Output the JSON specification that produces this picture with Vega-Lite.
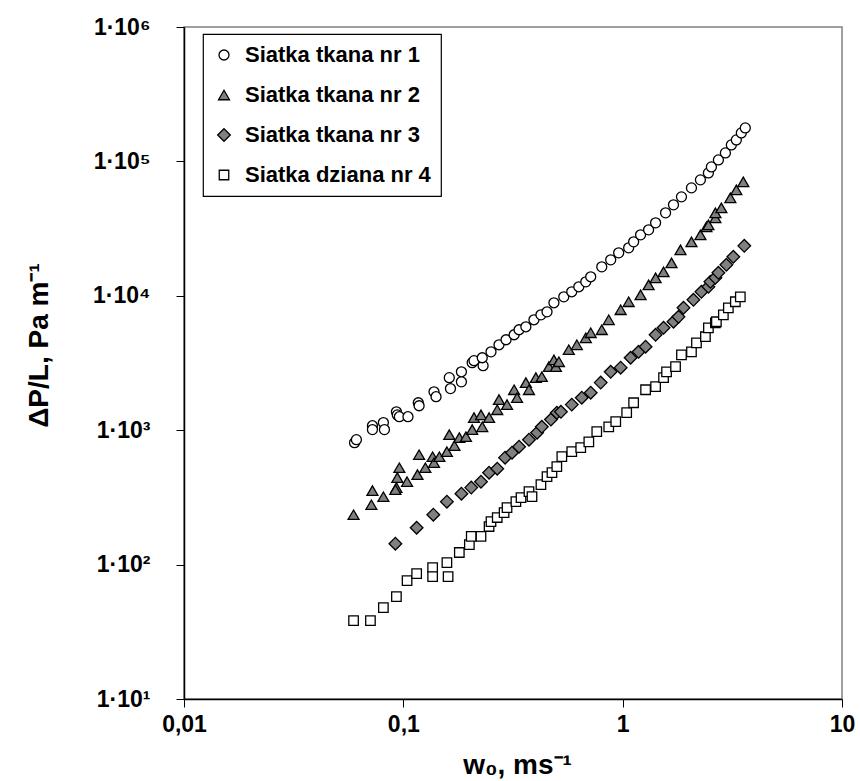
{
  "$schema": "https://vega.github.io/schema/vega-lite/v6.json",
  "width": 658,
  "height": 672,
  "autosize": {"type": "none"},
  "padding": {"left": 184, "top": 27, "right": 18, "bottom": 82},
  "background": "white",
  "config": {
    "font": "Liberation Sans",
    "view": {"stroke": "#808080", "strokeWidth": 1.5},
    "legend": {
      "orient": "none", "legendX": 19, "legendY": 7,
      "strokeColor": "black", "strokeWidth": 1.2, "fillColor": "white",
      "padding": 10, "rowPadding": 18, "labelLimit": 500,
      "labelFont": "Liberation Sans", "labelFontWeight": "bold", "labelFontSize": 22, "labelColor": "black",
      "labelOffset": 10, "symbolStrokeWidth": 1.3
    }
  },
  "data": {
    "values": [
      {"s": "Siatka tkana nr 1", "x": 0.0599, "y": 807},
      {"s": "Siatka tkana nr 1", "x": 0.0611, "y": 850},
      {"s": "Siatka tkana nr 1", "x": 0.0723, "y": 1080},
      {"s": "Siatka tkana nr 1", "x": 0.0723, "y": 1010},
      {"s": "Siatka tkana nr 1", "x": 0.0811, "y": 1140},
      {"s": "Siatka tkana nr 1", "x": 0.082, "y": 1010},
      {"s": "Siatka tkana nr 1", "x": 0.093, "y": 1370},
      {"s": "Siatka tkana nr 1", "x": 0.0939, "y": 1300},
      {"s": "Siatka tkana nr 1", "x": 0.0959, "y": 1260},
      {"s": "Siatka tkana nr 1", "x": 0.105, "y": 1260},
      {"s": "Siatka tkana nr 1", "x": 0.117, "y": 1600},
      {"s": "Siatka tkana nr 1", "x": 0.118, "y": 1520},
      {"s": "Siatka tkana nr 1", "x": 0.138, "y": 1930},
      {"s": "Siatka tkana nr 1", "x": 0.141, "y": 1775},
      {"s": "Siatka tkana nr 1", "x": 0.162, "y": 2460},
      {"s": "Siatka tkana nr 1", "x": 0.164, "y": 2040},
      {"s": "Siatka tkana nr 1", "x": 0.184, "y": 2720},
      {"s": "Siatka tkana nr 1", "x": 0.184, "y": 2290},
      {"s": "Siatka tkana nr 1", "x": 0.206, "y": 3180},
      {"s": "Siatka tkana nr 1", "x": 0.21, "y": 3290},
      {"s": "Siatka tkana nr 1", "x": 0.231, "y": 3020},
      {"s": "Siatka tkana nr 1", "x": 0.229, "y": 3460},
      {"s": "Siatka tkana nr 1", "x": 0.251, "y": 3830},
      {"s": "Siatka tkana nr 1", "x": 0.273, "y": 4320},
      {"s": "Siatka tkana nr 1", "x": 0.294, "y": 4710},
      {"s": "Siatka tkana nr 1", "x": 0.32, "y": 5130},
      {"s": "Siatka tkana nr 1", "x": 0.337, "y": 5590},
      {"s": "Siatka tkana nr 1", "x": 0.362, "y": 5880},
      {"s": "Siatka tkana nr 1", "x": 0.394, "y": 6630},
      {"s": "Siatka tkana nr 1", "x": 0.424, "y": 7220},
      {"s": "Siatka tkana nr 1", "x": 0.452, "y": 7600},
      {"s": "Siatka tkana nr 1", "x": 0.486, "y": 8870},
      {"s": "Siatka tkana nr 1", "x": 0.539, "y": 9830},
      {"s": "Siatka tkana nr 1", "x": 0.586, "y": 10710},
      {"s": "Siatka tkana nr 1", "x": 0.631, "y": 11670},
      {"s": "Siatka tkana nr 1", "x": 0.679, "y": 12710},
      {"s": "Siatka tkana nr 1", "x": 0.715, "y": 13850},
      {"s": "Siatka tkana nr 1", "x": 0.803, "y": 16430},
      {"s": "Siatka tkana nr 1", "x": 0.882, "y": 18520},
      {"s": "Siatka tkana nr 1", "x": 0.959, "y": 20880},
      {"s": "Siatka tkana nr 1", "x": 1.065, "y": 22750},
      {"s": "Siatka tkana nr 1", "x": 1.122, "y": 25200},
      {"s": "Siatka tkana nr 1", "x": 1.207, "y": 28410},
      {"s": "Siatka tkana nr 1", "x": 1.313, "y": 30950},
      {"s": "Siatka tkana nr 1", "x": 1.413, "y": 34900},
      {"s": "Siatka tkana nr 1", "x": 1.569, "y": 41410},
      {"s": "Siatka tkana nr 1", "x": 1.705, "y": 47490},
      {"s": "Siatka tkana nr 1", "x": 1.854, "y": 54460},
      {"s": "Siatka tkana nr 1", "x": 2.059, "y": 63530},
      {"s": "Siatka tkana nr 1", "x": 2.262, "y": 72870},
      {"s": "Siatka tkana nr 1", "x": 2.46, "y": 82120},
      {"s": "Siatka tkana nr 1", "x": 2.538, "y": 91000},
      {"s": "Siatka tkana nr 1", "x": 2.732, "y": 102600},
      {"s": "Siatka tkana nr 1", "x": 2.94, "y": 115700},
      {"s": "Siatka tkana nr 1", "x": 3.13, "y": 132700},
      {"s": "Siatka tkana nr 1", "x": 3.298, "y": 144500},
      {"s": "Siatka tkana nr 1", "x": 3.475, "y": 162900},
      {"s": "Siatka tkana nr 1", "x": 3.623, "y": 177500},

      {"s": "Siatka tkana nr 2", "x": 0.0593, "y": 235},
      {"s": "Siatka tkana nr 2", "x": 0.0723, "y": 355},
      {"s": "Siatka tkana nr 2", "x": 0.0715, "y": 279},
      {"s": "Siatka tkana nr 2", "x": 0.0811, "y": 320},
      {"s": "Siatka tkana nr 2", "x": 0.093, "y": 374},
      {"s": "Siatka tkana nr 2", "x": 0.0939, "y": 444},
      {"s": "Siatka tkana nr 2", "x": 0.0959, "y": 526},
      {"s": "Siatka tkana nr 2", "x": 0.092, "y": 361},
      {"s": "Siatka tkana nr 2", "x": 0.104, "y": 414},
      {"s": "Siatka tkana nr 2", "x": 0.116, "y": 467},
      {"s": "Siatka tkana nr 2", "x": 0.118, "y": 657},
      {"s": "Siatka tkana nr 2", "x": 0.126, "y": 526},
      {"s": "Siatka tkana nr 2", "x": 0.136, "y": 635},
      {"s": "Siatka tkana nr 2", "x": 0.138, "y": 573},
      {"s": "Siatka tkana nr 2", "x": 0.146, "y": 635},
      {"s": "Siatka tkana nr 2", "x": 0.162, "y": 926},
      {"s": "Siatka tkana nr 2", "x": 0.158, "y": 692},
      {"s": "Siatka tkana nr 2", "x": 0.171, "y": 767},
      {"s": "Siatka tkana nr 2", "x": 0.18, "y": 880},
      {"s": "Siatka tkana nr 2", "x": 0.193, "y": 895},
      {"s": "Siatka tkana nr 2", "x": 0.206, "y": 1010},
      {"s": "Siatka tkana nr 2", "x": 0.21, "y": 1240},
      {"s": "Siatka tkana nr 2", "x": 0.226, "y": 1300},
      {"s": "Siatka tkana nr 2", "x": 0.229, "y": 1060},
      {"s": "Siatka tkana nr 2", "x": 0.246, "y": 1240},
      {"s": "Siatka tkana nr 2", "x": 0.268, "y": 1420},
      {"s": "Siatka tkana nr 2", "x": 0.273, "y": 1690},
      {"s": "Siatka tkana nr 2", "x": 0.297, "y": 1550},
      {"s": "Siatka tkana nr 2", "x": 0.32, "y": 2000},
      {"s": "Siatka tkana nr 2", "x": 0.33, "y": 1745},
      {"s": "Siatka tkana nr 2", "x": 0.362, "y": 2260},
      {"s": "Siatka tkana nr 2", "x": 0.374, "y": 2000},
      {"s": "Siatka tkana nr 2", "x": 0.402, "y": 2460},
      {"s": "Siatka tkana nr 2", "x": 0.428, "y": 2500},
      {"s": "Siatka tkana nr 2", "x": 0.461, "y": 2970},
      {"s": "Siatka tkana nr 2", "x": 0.486, "y": 3340},
      {"s": "Siatka tkana nr 2", "x": 0.496, "y": 2970},
      {"s": "Siatka tkana nr 2", "x": 0.512, "y": 3230},
      {"s": "Siatka tkana nr 2", "x": 0.568, "y": 3970},
      {"s": "Siatka tkana nr 2", "x": 0.618, "y": 4320},
      {"s": "Siatka tkana nr 2", "x": 0.679, "y": 4870},
      {"s": "Siatka tkana nr 2", "x": 0.715, "y": 5310},
      {"s": "Siatka tkana nr 2", "x": 0.803, "y": 5590},
      {"s": "Siatka tkana nr 2", "x": 0.864, "y": 6630},
      {"s": "Siatka tkana nr 2", "x": 0.979, "y": 7870},
      {"s": "Siatka tkana nr 2", "x": 1.065, "y": 9030},
      {"s": "Siatka tkana nr 2", "x": 1.207, "y": 10170},
      {"s": "Siatka tkana nr 2", "x": 1.313, "y": 12070},
      {"s": "Siatka tkana nr 2", "x": 1.413, "y": 13610},
      {"s": "Siatka tkana nr 2", "x": 1.536, "y": 15080},
      {"s": "Siatka tkana nr 2", "x": 1.67, "y": 17590},
      {"s": "Siatka tkana nr 2", "x": 1.835, "y": 21980},
      {"s": "Siatka tkana nr 2", "x": 2.059, "y": 25200},
      {"s": "Siatka tkana nr 2", "x": 2.262, "y": 28410},
      {"s": "Siatka tkana nr 2", "x": 2.409, "y": 32580},
      {"s": "Siatka tkana nr 2", "x": 2.46, "y": 33720},
      {"s": "Siatka tkana nr 2", "x": 2.647, "y": 38010},
      {"s": "Siatka tkana nr 2", "x": 2.647, "y": 41410},
      {"s": "Siatka tkana nr 2", "x": 2.818, "y": 45110},
      {"s": "Siatka tkana nr 2", "x": 3.097, "y": 53530},
      {"s": "Siatka tkana nr 2", "x": 3.298, "y": 61390},
      {"s": "Siatka tkana nr 2", "x": 3.548, "y": 70410},

      {"s": "Siatka tkana nr 3", "x": 0.092, "y": 143},
      {"s": "Siatka tkana nr 3", "x": 0.115, "y": 188},
      {"s": "Siatka tkana nr 3", "x": 0.137, "y": 235},
      {"s": "Siatka tkana nr 3", "x": 0.158, "y": 294},
      {"s": "Siatka tkana nr 3", "x": 0.184, "y": 337},
      {"s": "Siatka tkana nr 3", "x": 0.204, "y": 374},
      {"s": "Siatka tkana nr 3", "x": 0.226, "y": 414},
      {"s": "Siatka tkana nr 3", "x": 0.246, "y": 483},
      {"s": "Siatka tkana nr 3", "x": 0.268, "y": 517},
      {"s": "Siatka tkana nr 3", "x": 0.291, "y": 625},
      {"s": "Siatka tkana nr 3", "x": 0.313, "y": 680},
      {"s": "Siatka tkana nr 3", "x": 0.337, "y": 754},
      {"s": "Siatka tkana nr 3", "x": 0.374, "y": 850},
      {"s": "Siatka tkana nr 3", "x": 0.407, "y": 958},
      {"s": "Siatka tkana nr 3", "x": 0.428, "y": 1060},
      {"s": "Siatka tkana nr 3", "x": 0.471, "y": 1200},
      {"s": "Siatka tkana nr 3", "x": 0.501, "y": 1350},
      {"s": "Siatka tkana nr 3", "x": 0.523, "y": 1370},
      {"s": "Siatka tkana nr 3", "x": 0.586, "y": 1550},
      {"s": "Siatka tkana nr 3", "x": 0.651, "y": 1745},
      {"s": "Siatka tkana nr 3", "x": 0.715, "y": 1900},
      {"s": "Siatka tkana nr 3", "x": 0.794, "y": 2260},
      {"s": "Siatka tkana nr 3", "x": 0.882, "y": 2720},
      {"s": "Siatka tkana nr 3", "x": 0.979, "y": 2920},
      {"s": "Siatka tkana nr 3", "x": 1.087, "y": 3460},
      {"s": "Siatka tkana nr 3", "x": 1.182, "y": 3830},
      {"s": "Siatka tkana nr 3", "x": 1.272, "y": 4180},
      {"s": "Siatka tkana nr 3", "x": 1.413, "y": 5130},
      {"s": "Siatka tkana nr 3", "x": 1.536, "y": 5780},
      {"s": "Siatka tkana nr 3", "x": 1.705, "y": 6410},
      {"s": "Siatka tkana nr 3", "x": 1.797, "y": 6980},
      {"s": "Siatka tkana nr 3", "x": 1.894, "y": 8140},
      {"s": "Siatka tkana nr 3", "x": 2.102, "y": 9340},
      {"s": "Siatka tkana nr 3", "x": 2.286, "y": 10710},
      {"s": "Siatka tkana nr 3", "x": 2.46, "y": 11670},
      {"s": "Siatka tkana nr 3", "x": 2.512, "y": 12710},
      {"s": "Siatka tkana nr 3", "x": 2.647, "y": 13610},
      {"s": "Siatka tkana nr 3", "x": 2.732, "y": 14830},
      {"s": "Siatka tkana nr 3", "x": 2.971, "y": 17000},
      {"s": "Siatka tkana nr 3", "x": 3.196, "y": 19500},
      {"s": "Siatka tkana nr 3", "x": 3.585, "y": 23530},

      {"s": "Siatka dziana nr 4", "x": 0.0593, "y": 38.3},
      {"s": "Siatka dziana nr 4", "x": 0.0708, "y": 38.3},
      {"s": "Siatka dziana nr 4", "x": 0.0811, "y": 47.9},
      {"s": "Siatka dziana nr 4", "x": 0.093, "y": 57.8},
      {"s": "Siatka dziana nr 4", "x": 0.104, "y": 76},
      {"s": "Siatka dziana nr 4", "x": 0.115, "y": 85.7},
      {"s": "Siatka dziana nr 4", "x": 0.136, "y": 95},
      {"s": "Siatka dziana nr 4", "x": 0.136, "y": 81.4},
      {"s": "Siatka dziana nr 4", "x": 0.158, "y": 103.5},
      {"s": "Siatka dziana nr 4", "x": 0.16, "y": 81.4},
      {"s": "Siatka dziana nr 4", "x": 0.18, "y": 123},
      {"s": "Siatka dziana nr 4", "x": 0.2, "y": 141},
      {"s": "Siatka dziana nr 4", "x": 0.204, "y": 162},
      {"s": "Siatka dziana nr 4", "x": 0.226, "y": 162},
      {"s": "Siatka dziana nr 4", "x": 0.246, "y": 192},
      {"s": "Siatka dziana nr 4", "x": 0.251, "y": 209},
      {"s": "Siatka dziana nr 4", "x": 0.268, "y": 224},
      {"s": "Siatka dziana nr 4", "x": 0.288, "y": 244},
      {"s": "Siatka dziana nr 4", "x": 0.297, "y": 265},
      {"s": "Siatka dziana nr 4", "x": 0.326, "y": 294},
      {"s": "Siatka dziana nr 4", "x": 0.344, "y": 315},
      {"s": "Siatka dziana nr 4", "x": 0.374, "y": 349},
      {"s": "Siatka dziana nr 4", "x": 0.386, "y": 320},
      {"s": "Siatka dziana nr 4", "x": 0.424, "y": 393},
      {"s": "Siatka dziana nr 4", "x": 0.452, "y": 451},
      {"s": "Siatka dziana nr 4", "x": 0.476, "y": 483},
      {"s": "Siatka dziana nr 4", "x": 0.501, "y": 535},
      {"s": "Siatka dziana nr 4", "x": 0.528, "y": 635},
      {"s": "Siatka dziana nr 4", "x": 0.586, "y": 692},
      {"s": "Siatka dziana nr 4", "x": 0.644, "y": 741},
      {"s": "Siatka dziana nr 4", "x": 0.701, "y": 820},
      {"s": "Siatka dziana nr 4", "x": 0.762, "y": 975},
      {"s": "Siatka dziana nr 4", "x": 0.864, "y": 1060},
      {"s": "Siatka dziana nr 4", "x": 0.93, "y": 1160},
      {"s": "Siatka dziana nr 4", "x": 1.043, "y": 1350},
      {"s": "Siatka dziana nr 4", "x": 1.122, "y": 1600},
      {"s": "Siatka dziana nr 4", "x": 1.272, "y": 2000},
      {"s": "Siatka dziana nr 4", "x": 1.413, "y": 2110},
      {"s": "Siatka dziana nr 4", "x": 1.536, "y": 2460},
      {"s": "Siatka dziana nr 4", "x": 1.585, "y": 2720},
      {"s": "Siatka dziana nr 4", "x": 1.742, "y": 2970},
      {"s": "Siatka dziana nr 4", "x": 1.854, "y": 3640},
      {"s": "Siatka dziana nr 4", "x": 2.059, "y": 3830},
      {"s": "Siatka dziana nr 4", "x": 2.17, "y": 4470},
      {"s": "Siatka dziana nr 4", "x": 2.384, "y": 4960},
      {"s": "Siatka dziana nr 4", "x": 2.46, "y": 5780},
      {"s": "Siatka dziana nr 4", "x": 2.647, "y": 6300},
      {"s": "Siatka dziana nr 4", "x": 2.675, "y": 6410},
      {"s": "Siatka dziana nr 4", "x": 2.878, "y": 7220},
      {"s": "Siatka dziana nr 4", "x": 3.033, "y": 8140},
      {"s": "Siatka dziana nr 4", "x": 3.264, "y": 9030},
      {"s": "Siatka dziana nr 4", "x": 3.439, "y": 9830}
    ]
  },
  "mark": {"type": "point", "filled": true, "strokeWidth": 1.3, "opacity": 1},
  "encoding": {
    "x": {
      "field": "x", "type": "quantitative",
      "scale": {"type": "log", "domain": [0.01, 10], "nice": false},
      "axis": {
        "values": [0.01, 0.1, 1, 10],
        "labelExpr": "datum.value < 0.05 ? '0,01' : datum.value < 0.5 ? '0,1' : datum.value < 5 ? '1' : '10'",
        "grid": false,
        "domainColor": "black", "domainWidth": 1.5,
        "tickColor": "black", "tickSize": 8, "tickWidth": 1,
        "labelFont": "Liberation Sans", "labelFontWeight": "bold", "labelFontSize": 23, "labelColor": "black",
        "labelPadding": 24, "labelBaseline": "alphabetic", "labelFlush": false, "labelOverlap": false,
        "title": "w₀, ms⁻¹",
        "titleFont": "Liberation Sans", "titleFontWeight": "bold", "titleFontSize": 28, "titleColor": "black",
        "titleBaseline": "alphabetic", "titleY": 74, "titleX": 333
      }
    },
    "y": {
      "field": "y", "type": "quantitative",
      "scale": {"type": "log", "domain": [10, 1000000], "nice": false},
      "axis": {
        "values": [10, 100, 1000, 10000, 100000, 1000000],
        "labelExpr": "datum.value < 50 ? '1·10¹' : datum.value < 500 ? '1·10²' : datum.value < 5000 ? '1·10³' : datum.value < 50000 ? '1·10⁴' : datum.value < 500000 ? '1·10⁵' : '1·10⁶'",
        "grid": false,
        "domainColor": "black", "domainWidth": 1.5,
        "tickColor": "black", "tickSize": 8, "tickWidth": 1,
        "labelFont": "Liberation Sans", "labelFontWeight": "bold", "labelFontSize": 23, "labelColor": "black",
        "labelPadding": 26, "labelFlush": false, "labelOverlap": false,
        "title": "ΔP/L, Pa m⁻¹",
        "titleFont": "Liberation Sans", "titleFontWeight": "bold", "titleFontSize": 28, "titleColor": "black",
        "titleAngle": -90, "titleBaseline": "alphabetic", "titleX": -137, "titleY": 318
      }
    },
    "shape": {
      "field": "s", "type": "nominal", "title": null,
      "scale": {
        "domain": ["Siatka tkana nr 1", "Siatka tkana nr 2", "Siatka tkana nr 3", "Siatka dziana nr 4"],
        "range": ["circle", "triangle-up", "diamond", "square"]
      }
    },
    "fill": {
      "field": "s", "type": "nominal", "title": null,
      "scale": {
        "domain": ["Siatka tkana nr 1", "Siatka tkana nr 2", "Siatka tkana nr 3", "Siatka dziana nr 4"],
        "range": ["white", "#808080", "#808080", "white"]
      }
    },
    "stroke": {
      "field": "s", "type": "nominal", "title": null,
      "scale": {
        "domain": ["Siatka tkana nr 1", "Siatka tkana nr 2", "Siatka tkana nr 3", "Siatka dziana nr 4"],
        "range": ["black", "black", "black", "black"]
      }
    },
    "size": {
      "field": "s", "type": "nominal", "title": null,
      "scale": {
        "type": "ordinal",
        "domain": ["Siatka tkana nr 1", "Siatka tkana nr 2", "Siatka tkana nr 3", "Siatka dziana nr 4"],
        "range": [100, 120, 160, 90]
      }
    }
  }
}
